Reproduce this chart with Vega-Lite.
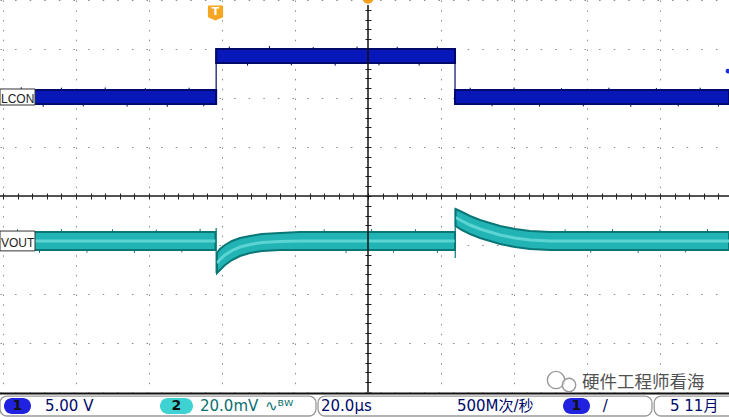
{
  "$schema": "https://vega.github.io/schema/vega-lite/v6.json",
  "width": 729,
  "height": 417,
  "autosize": {"type": "none"},
  "padding": 0,
  "background": "white",
  "config": {"view": {"stroke": null}, "axis": {"title": null}},
  "resolve": {"axis": {"x": "independent", "y": "independent"}},
  "datasets": {
    "one": [{"k": 1}],
    "lcon": [
      {"seg": "a", "t": -100.82, "hi": 2.163, "lo": 1.878},
      {"seg": "a", "t": -41.6, "hi": 2.163, "lo": 1.878},
      {"seg": "b", "t": -41.6, "hi": 3.0, "lo": 2.714},
      {"seg": "b", "t": 23.84, "hi": 3.0, "lo": 2.714},
      {"seg": "c", "t": 23.84, "hi": 2.163, "lo": 1.878},
      {"seg": "c", "t": 98.9, "hi": 2.163, "lo": 1.878}
    ],
    "lconEdges": [
      {"t": -41.6, "hi": 3.0, "lo": 1.878},
      {"t": 23.84, "hi": 3.0, "lo": 1.878}
    ],
    "vout": [
      {"seg": "a", "t": -100.82, "hi": -0.735, "lo": -1.102, "mid": -0.918},
      {"seg": "a", "t": -41.8, "hi": -0.735, "lo": -1.102, "mid": -0.918},
      {"seg": "b", "t": -41.37, "hi": -1.163, "lo": -1.571, "mid": -1.367},
      {"seg": "b", "t": -40.55, "hi": -1.082, "lo": -1.51, "mid": -1.296},
      {"seg": "b", "t": -39.18, "hi": -1.0, "lo": -1.408, "mid": -1.204},
      {"seg": "b", "t": -37.26, "hi": -0.918, "lo": -1.306, "mid": -1.112},
      {"seg": "b", "t": -35.07, "hi": -0.857, "lo": -1.224, "mid": -1.041},
      {"seg": "b", "t": -32.33, "hi": -0.816, "lo": -1.163, "mid": -0.99},
      {"seg": "b", "t": -29.04, "hi": -0.776, "lo": -1.122, "mid": -0.949},
      {"seg": "b", "t": -24.11, "hi": -0.755, "lo": -1.102, "mid": -0.929},
      {"seg": "b", "t": -18.63, "hi": -0.735, "lo": -1.102, "mid": -0.918},
      {"seg": "b", "t": 23.84, "hi": -0.735, "lo": -1.102, "mid": -0.918},
      {"seg": "c", "t": 24.0, "hi": -0.265, "lo": -0.612, "mid": -0.439},
      {"seg": "c", "t": 25.75, "hi": -0.327, "lo": -0.694, "mid": -0.51},
      {"seg": "c", "t": 27.95, "hi": -0.408, "lo": -0.776, "mid": -0.592},
      {"seg": "c", "t": 30.68, "hi": -0.49, "lo": -0.857, "mid": -0.673},
      {"seg": "c", "t": 33.42, "hi": -0.551, "lo": -0.918, "mid": -0.735},
      {"seg": "c", "t": 36.16, "hi": -0.612, "lo": -0.98, "mid": -0.796},
      {"seg": "c", "t": 40.27, "hi": -0.673, "lo": -1.041, "mid": -0.857},
      {"seg": "c", "t": 44.38, "hi": -0.714, "lo": -1.082, "mid": -0.898},
      {"seg": "c", "t": 49.86, "hi": -0.735, "lo": -1.102, "mid": -0.918},
      {"seg": "c", "t": 98.9, "hi": -0.735, "lo": -1.102, "mid": -0.918}
    ],
    "voutEdges": [
      {"t": -41.6, "hi": -0.653, "lo": -1.571},
      {"t": 23.9, "hi": -0.265, "lo": -1.265}
    ],
    "spikes": [
      {"tr": "L", "t": -95, "a": 2.163, "b": 2.22}, {"tr": "L", "t": -89, "a": 1.878, "b": 1.82},
      {"tr": "L", "t": -84, "a": 2.163, "b": 2.21}, {"tr": "L", "t": -78, "a": 1.878, "b": 1.83},
      {"tr": "L", "t": -72, "a": 2.163, "b": 2.215}, {"tr": "L", "t": -66, "a": 1.878, "b": 1.825},
      {"tr": "L", "t": -61, "a": 2.163, "b": 2.2}, {"tr": "L", "t": -55, "a": 1.878, "b": 1.82},
      {"tr": "L", "t": -49, "a": 2.163, "b": 2.21}, {"tr": "L", "t": -45, "a": 1.878, "b": 1.83},
      {"tr": "L", "t": -38, "a": 3.0, "b": 3.05}, {"tr": "L", "t": -33, "a": 2.714, "b": 2.66},
      {"tr": "L", "t": -27, "a": 3.0, "b": 3.06}, {"tr": "L", "t": -21, "a": 2.714, "b": 2.665},
      {"tr": "L", "t": -15, "a": 3.0, "b": 3.04}, {"tr": "L", "t": -9, "a": 2.714, "b": 2.66},
      {"tr": "L", "t": -3, "a": 3.0, "b": 3.05}, {"tr": "L", "t": 3, "a": 2.714, "b": 2.665},
      {"tr": "L", "t": 8, "a": 3.0, "b": 3.045}, {"tr": "L", "t": 14, "a": 2.714, "b": 2.66},
      {"tr": "L", "t": 19, "a": 3.0, "b": 3.05},
      {"tr": "L", "t": 28, "a": 2.163, "b": 2.21}, {"tr": "L", "t": 34, "a": 1.878, "b": 1.83},
      {"tr": "L", "t": 40, "a": 2.163, "b": 2.215}, {"tr": "L", "t": 47, "a": 1.878, "b": 1.825},
      {"tr": "L", "t": 53, "a": 2.163, "b": 2.2}, {"tr": "L", "t": 59, "a": 1.878, "b": 1.83},
      {"tr": "L", "t": 66, "a": 2.163, "b": 2.21}, {"tr": "L", "t": 72, "a": 1.878, "b": 1.82},
      {"tr": "L", "t": 79, "a": 2.163, "b": 2.205}, {"tr": "L", "t": 85, "a": 1.878, "b": 1.83},
      {"tr": "L", "t": 91, "a": 2.163, "b": 2.21}, {"tr": "L", "t": 96, "a": 1.878, "b": 1.825},
      {"tr": "V", "t": -96, "a": -0.735, "b": -0.68}, {"tr": "V", "t": -90, "a": -1.102, "b": -1.16},
      {"tr": "V", "t": -84, "a": -0.735, "b": -0.675}, {"tr": "V", "t": -77, "a": -1.102, "b": -1.155},
      {"tr": "V", "t": -70, "a": -0.735, "b": -0.68}, {"tr": "V", "t": -64, "a": -1.102, "b": -1.16},
      {"tr": "V", "t": -58, "a": -0.735, "b": -0.685}, {"tr": "V", "t": -51, "a": -1.102, "b": -1.15},
      {"tr": "V", "t": -46, "a": -0.735, "b": -0.67}, {"tr": "V", "t": -12, "a": -0.735, "b": -0.68},
      {"tr": "V", "t": -6, "a": -1.102, "b": -1.16}, {"tr": "V", "t": 1, "a": -0.735, "b": -0.675},
      {"tr": "V", "t": 7, "a": -1.102, "b": -1.155}, {"tr": "V", "t": 13, "a": -0.735, "b": -0.68},
      {"tr": "V", "t": 19, "a": -1.102, "b": -1.16}, {"tr": "V", "t": 54, "a": -0.735, "b": -0.68},
      {"tr": "V", "t": 61, "a": -1.102, "b": -1.155}, {"tr": "V", "t": 67, "a": -0.735, "b": -0.675},
      {"tr": "V", "t": 74, "a": -1.102, "b": -1.16}, {"tr": "V", "t": 80, "a": -0.735, "b": -0.68},
      {"tr": "V", "t": 87, "a": -1.102, "b": -1.15}, {"tr": "V", "t": 93, "a": -0.735, "b": -0.675}
    ],
    "labels": [
      {"name": "LCON", "t": -100.82, "t2": -91.23, "top": 2.184, "bot": 1.857, "v": 1.98},
      {"name": "VOUT", "t": -100.82, "t2": -91.23, "top": -0.715, "bot": -1.12, "v": -0.96}
    ],
    "boxes": [
      {"t": -100.82, "t2": -14.25, "top": -4.082, "bot": -4.49},
      {"t": -13.7, "t2": 77.8, "top": -4.082, "bot": -4.49},
      {"t": 78.4, "t2": 106, "top": -4.082, "bot": -4.49}
    ],
    "pills": [
      {"ch": "1", "t": -99.73, "t2": -92.33, "tc": -96.03, "top": -4.122, "bot": -4.449, "v": -4.286},
      {"ch": "2", "t": -56.99, "t2": -47.95, "tc": -52.47, "top": -4.122, "bot": -4.449, "v": -4.286},
      {"ch": "1", "t": 53.42, "t2": 60.82, "tc": 57.12, "top": -4.122, "bot": -4.449, "v": -4.286}
    ],
    "status": [
      {"grp": "ch1", "t": -88.49, "v": -4.286, "label": "5.00 V"},
      {"grp": "ch2", "t": -46.03, "v": -4.286, "label": "20.0mV"},
      {"grp": "ch2", "t": -28.22, "v": -4.286, "label": "∿ᴮᵂ"},
      {"grp": "sys", "t": -12.88, "v": -4.286, "label": "20.0μs"},
      {"grp": "sys", "t": 24.38, "v": -4.286, "label": "500M次/秒"},
      {"grp": "sys", "t": 64.3, "v": -4.286, "label": "/"},
      {"grp": "sys", "t": 82.74, "v": -4.286, "label": "5 11月"}
    ]
  },
  "layer": [
    {
      "data": {"name": "lcon"},
      "mark": {"type": "area", "color": "#0818b8", "stroke": "#000a6a", "strokeWidth": 2, "opacity": 1},
      "encoding": {
        "x": {"field": "t", "type": "quantitative", "scale": {"domain": [-100.82, 98.9], "nice": false, "zero": false},
          "axis": {"orient": "bottom", "values": [-100, -80, -60, -40, -20, 20, 40, 60, 80], "grid": true, "gridColor": "#8a8a8a", "gridDash": [1.5, 8.3], "gridWidth": 1, "labels": false, "ticks": false, "domain": false, "title": null}},
        "y": {"field": "hi", "type": "quantitative", "scale": {"domain": [-4.51, 4], "nice": false, "zero": false},
          "axis": {"orient": "left", "values": [-4, -3, -2, -1, 1, 2, 3, 4], "grid": true, "gridColor": "#8a8a8a", "gridDash": [1.5, 13.1], "gridWidth": 1, "labels": false, "ticks": false, "domain": false, "title": null}},
        "y2": {"field": "lo"},
        "detail": {"field": "seg"}
      }
    },
    {
      "data": {"name": "lconEdges"},
      "mark": {"type": "rule", "color": "#000a6a", "strokeWidth": 1.2},
      "encoding": {
        "x": {"field": "t", "type": "quantitative", "scale": {"domain": [-100.82, 98.9], "nice": false, "zero": false}, "axis": null},
        "y": {"field": "hi", "type": "quantitative", "scale": {"domain": [-4.51, 4], "nice": false, "zero": false}, "axis": null},
        "y2": {"field": "lo"}
      }
    },
    {
      "data": {"name": "vout"},
      "mark": {"type": "area", "color": "#22b4b4", "stroke": "#0a7676", "strokeWidth": 2},
      "encoding": {
        "x": {"field": "t", "type": "quantitative", "scale": {"domain": [-100.82, 98.9], "nice": false, "zero": false},
          "axis": {"orient": "top", "offset": -196, "values": [-100, -96, -92, -88, -84, -80, -76, -72, -68, -64, -60, -56, -52, -48, -44, -40, -36, -32, -28, -24, -20, -16, -12, -8, -4, 0, 4, 8, 12, 16, 20, 24, 28, 32, 36, 40, 44, 48, 52, 56, 60, 64, 68, 72, 76, 80, 84, 88, 92, 96], "ticks": true, "tickSize": 3, "tickColor": "#222", "tickWidth": 1, "labels": false, "domain": false, "grid": false, "title": null}},
        "y": {"field": "hi", "type": "quantitative", "scale": {"domain": [-4.51, 4], "nice": false, "zero": false},
          "axis": {"orient": "left", "offset": -368, "values": [-4, -3.8, -3.6, -3.4, -3.2, -3, -2.8, -2.6, -2.4, -2.2, -2, -1.8, -1.6, -1.4, -1.2, -1, -0.8, -0.6, -0.4, -0.2, 0, 0.2, 0.4, 0.6, 0.8, 1, 1.2, 1.4, 1.6, 1.8, 2, 2.2, 2.4, 2.6, 2.8, 3, 3.2, 3.4, 3.6, 3.8, 4], "ticks": true, "tickSize": 3, "tickColor": "#222", "tickWidth": 1, "labels": false, "domain": false, "grid": false, "title": null}},
        "y2": {"field": "lo"},
        "detail": {"field": "seg"}
      }
    },
    {
      "data": {"name": "vout"},
      "mark": {"type": "line", "color": "#5cd4d4", "strokeWidth": 3},
      "encoding": {
        "x": {"field": "t", "type": "quantitative", "scale": {"domain": [-100.82, 98.9], "nice": false, "zero": false},
          "axis": {"orient": "bottom", "offset": -221, "values": [-100, -96, -92, -88, -84, -80, -76, -72, -68, -64, -60, -56, -52, -48, -44, -40, -36, -32, -28, -24, -20, -16, -12, -8, -4, 0, 4, 8, 12, 16, 20, 24, 28, 32, 36, 40, 44, 48, 52, 56, 60, 64, 68, 72, 76, 80, 84, 88, 92, 96], "ticks": true, "tickSize": 3, "tickColor": "#222", "tickWidth": 1, "labels": false, "domain": false, "grid": false, "title": null}},
        "y": {"field": "mid", "type": "quantitative", "scale": {"domain": [-4.51, 4], "nice": false, "zero": false},
          "axis": {"orient": "right", "offset": -361, "values": [-4, -3.8, -3.6, -3.4, -3.2, -3, -2.8, -2.6, -2.4, -2.2, -2, -1.8, -1.6, -1.4, -1.2, -1, -0.8, -0.6, -0.4, -0.2, 0, 0.2, 0.4, 0.6, 0.8, 1, 1.2, 1.4, 1.6, 1.8, 2, 2.2, 2.4, 2.6, 2.8, 3, 3.2, 3.4, 3.6, 3.8, 4], "ticks": true, "tickSize": 3, "tickColor": "#222", "tickWidth": 1, "labels": false, "domain": false, "grid": false, "title": null}},
        "detail": {"field": "seg"}
      }
    },
    {
      "data": {"name": "voutEdges"},
      "mark": {"type": "rule", "color": "#0a7676", "strokeWidth": 1.2},
      "encoding": {
        "x": {"field": "t", "type": "quantitative", "scale": {"domain": [-100.82, 98.9], "nice": false, "zero": false}, "axis": null},
        "y": {"field": "hi", "type": "quantitative", "scale": {"domain": [-4.51, 4], "nice": false, "zero": false}, "axis": null},
        "y2": {"field": "lo"}
      }
    },
    {
      "data": {"name": "spikes"},
      "mark": {"type": "rule", "strokeWidth": 1},
      "encoding": {
        "x": {"field": "t", "type": "quantitative", "scale": {"domain": [-100.82, 98.9], "nice": false, "zero": false}, "axis": null},
        "y": {"field": "a", "type": "quantitative", "scale": {"domain": [-4.51, 4], "nice": false, "zero": false}, "axis": null},
        "y2": {"field": "b"},
        "color": {"field": "tr", "type": "nominal", "scale": {"domain": ["L", "V"], "range": ["#000a6a", "#0a7070"]}, "legend": null}
      }
    },
    {
      "data": {"name": "one"},
      "mark": {"type": "rule", "color": "#1a1a1a", "strokeWidth": 1.3},
      "encoding": {
        "y": {"datum": 0, "type": "quantitative", "scale": {"domain": [-4.51, 4], "nice": false, "zero": false}, "axis": null}
      }
    },
    {
      "data": {"name": "one"},
      "mark": {"type": "rule", "color": "#111111", "strokeWidth": 1.5},
      "encoding": {
        "x": {"datum": 0, "type": "quantitative", "scale": {"domain": [-100.82, 98.9], "nice": false, "zero": false}, "axis": null},
        "y": {"datum": 3.9, "type": "quantitative", "scale": {"domain": [-4.51, 4], "nice": false, "zero": false}, "axis": null},
        "y2": {"datum": -4.02}
      }
    },
    {
      "data": {"name": "labels"},
      "mark": {"type": "rect", "fill": "white", "stroke": "#333333", "strokeWidth": 1},
      "encoding": {
        "x": {"field": "t", "type": "quantitative", "scale": {"domain": [-100.82, 98.9], "nice": false, "zero": false}, "axis": null},
        "x2": {"field": "t2"},
        "y": {"field": "top", "type": "quantitative", "scale": {"domain": [-4.51, 4], "nice": false, "zero": false}, "axis": null},
        "y2": {"field": "bot"}
      }
    },
    {
      "data": {"name": "labels"},
      "mark": {"type": "text", "align": "left", "baseline": "middle", "font": "Liberation Sans", "fontSize": 12, "color": "#222222", "dx": 1},
      "encoding": {
        "x": {"field": "t", "type": "quantitative", "scale": {"domain": [-100.82, 98.9], "nice": false, "zero": false}, "axis": null},
        "y": {"field": "v", "type": "quantitative", "scale": {"domain": [-4.51, 4], "nice": false, "zero": false}, "axis": null},
        "text": {"field": "name"}
      }
    },
    {
      "data": {"name": "one"},
      "mark": {"type": "point", "shape": "M-1,-1L1,-1L1,0.55L0,1L-1,0.55Z", "filled": true, "color": "#f5a623", "size": 230, "opacity": 1},
      "encoding": {
        "x": {"datum": -41.78, "type": "quantitative", "scale": {"domain": [-100.82, 98.9], "nice": false, "zero": false}, "axis": null},
        "y": {"datum": 3.735, "type": "quantitative", "scale": {"domain": [-4.51, 4], "nice": false, "zero": false}, "axis": null}
      }
    },
    {
      "data": {"name": "one"},
      "mark": {"type": "text", "text": "T", "font": "DejaVu Sans", "fontWeight": "bold", "fontSize": 11, "color": "white", "align": "center", "baseline": "middle", "dy": -1},
      "encoding": {
        "x": {"datum": -41.78, "type": "quantitative", "scale": {"domain": [-100.82, 98.9], "nice": false, "zero": false}, "axis": null},
        "y": {"datum": 3.735, "type": "quantitative", "scale": {"domain": [-4.51, 4], "nice": false, "zero": false}, "axis": null}
      }
    },
    {
      "data": {"name": "one"},
      "mark": {"type": "point", "shape": "circle", "filled": true, "color": "#f5a01c", "size": 130, "opacity": 1},
      "encoding": {
        "x": {"datum": 0, "type": "quantitative", "scale": {"domain": [-100.82, 98.9], "nice": false, "zero": false}, "axis": null},
        "y": {"datum": 4.04, "type": "quantitative", "scale": {"domain": [-4.51, 4], "nice": false, "zero": false}, "axis": null}
      }
    },
    {
      "data": {"name": "one"},
      "mark": {"type": "point", "shape": "circle", "filled": true, "color": "#1f2fd0", "size": 22, "opacity": 1},
      "encoding": {
        "x": {"datum": 98.6, "type": "quantitative", "scale": {"domain": [-100.82, 98.9], "nice": false, "zero": false}, "axis": null},
        "y": {"datum": 2.55, "type": "quantitative", "scale": {"domain": [-4.51, 4], "nice": false, "zero": false}, "axis": null}
      }
    },
    {
      "data": {"name": "one"},
      "mark": {"type": "rect", "fill": "white"},
      "encoding": {
        "x": {"datum": -102, "type": "quantitative", "scale": {"domain": [-100.82, 98.9], "nice": false, "zero": false}, "axis": null},
        "x2": {"datum": 101},
        "y": {"datum": -4.012, "type": "quantitative", "scale": {"domain": [-4.51, 4], "nice": false, "zero": false}, "axis": null},
        "y2": {"datum": -4.6}
      }
    },
    {
      "data": {"name": "one"},
      "mark": {"type": "rule", "color": "#111111", "strokeWidth": 2},
      "encoding": {
        "y": {"datum": -4.03, "type": "quantitative", "scale": {"domain": [-4.51, 4], "nice": false, "zero": false}, "axis": null}
      }
    },
    {
      "data": {"name": "boxes"},
      "mark": {"type": "rect", "fill": "white", "stroke": "#9a9a9a", "strokeWidth": 1.3, "cornerRadius": 7},
      "encoding": {
        "x": {"field": "t", "type": "quantitative", "scale": {"domain": [-100.82, 98.9], "nice": false, "zero": false}, "axis": null},
        "x2": {"field": "t2"},
        "y": {"field": "top", "type": "quantitative", "scale": {"domain": [-4.51, 4], "nice": false, "zero": false}, "axis": null},
        "y2": {"field": "bot"}
      }
    },
    {
      "data": {"name": "pills"},
      "mark": {"type": "rect", "cornerRadius": 8},
      "encoding": {
        "x": {"field": "t", "type": "quantitative", "scale": {"domain": [-100.82, 98.9], "nice": false, "zero": false}, "axis": null},
        "x2": {"field": "t2"},
        "y": {"field": "top", "type": "quantitative", "scale": {"domain": [-4.51, 4], "nice": false, "zero": false}, "axis": null},
        "y2": {"field": "bot"},
        "fill": {"field": "ch", "type": "nominal", "scale": {"domain": ["1", "2"], "range": ["#2121e0", "#3ed2d2"]}, "legend": null}
      }
    },
    {
      "data": {"name": "pills"},
      "mark": {"type": "text", "font": "DejaVu Sans", "fontWeight": "bold", "fontSize": 14, "color": "#111111", "align": "center", "baseline": "middle"},
      "encoding": {
        "x": {"field": "tc", "type": "quantitative", "scale": {"domain": [-100.82, 98.9], "nice": false, "zero": false}, "axis": null},
        "y": {"field": "v", "type": "quantitative", "scale": {"domain": [-4.51, 4], "nice": false, "zero": false}, "axis": null},
        "text": {"field": "ch"}
      }
    },
    {
      "data": {"name": "status"},
      "mark": {"type": "text", "font": "'DejaVu Sans', 'Noto Sans CJK SC'", "fontSize": 15, "align": "left", "baseline": "middle"},
      "encoding": {
        "x": {"field": "t", "type": "quantitative", "scale": {"domain": [-100.82, 98.9], "nice": false, "zero": false}, "axis": null},
        "y": {"field": "v", "type": "quantitative", "scale": {"domain": [-4.51, 4], "nice": false, "zero": false}, "axis": null},
        "text": {"field": "label"},
        "color": {"field": "grp", "type": "nominal", "scale": {"domain": ["ch1", "ch2", "sys"], "range": ["#4b4bc8", "#3cc6c6", "#111111"]}, "legend": null}
      }
    },
    {
      "data": {"name": "one"},
      "mark": {"type": "point", "shape": "circle", "filled": true, "fill": "white", "fillOpacity": 0.6, "stroke": "#9a9a9a", "strokeWidth": 1.4, "size": 300},
      "encoding": {
        "x": {"datum": 51.51, "type": "quantitative", "scale": {"domain": [-100.82, 98.9], "nice": false, "zero": false}, "axis": null},
        "y": {"datum": -3.755, "type": "quantitative", "scale": {"domain": [-4.51, 4], "nice": false, "zero": false}, "axis": null}
      }
    },
    {
      "data": {"name": "one"},
      "mark": {"type": "point", "shape": "circle", "filled": true, "fill": "white", "fillOpacity": 0.6, "stroke": "#9a9a9a", "strokeWidth": 1.4, "size": 180},
      "encoding": {
        "x": {"datum": 55.07, "type": "quantitative", "scale": {"domain": [-100.82, 98.9], "nice": false, "zero": false}, "axis": null},
        "y": {"datum": -3.857, "type": "quantitative", "scale": {"domain": [-4.51, 4], "nice": false, "zero": false}, "axis": null}
      }
    },
    {
      "data": {"name": "one"},
      "mark": {"type": "text", "text": "硬件工程师看海", "font": "Noto Sans CJK SC", "fontSize": 17.5, "color": "#333333", "opacity": 0.85, "align": "left", "baseline": "middle"},
      "encoding": {
        "x": {"datum": 58.63, "type": "quantitative", "scale": {"domain": [-100.82, 98.9], "nice": false, "zero": false}, "axis": null},
        "y": {"datum": -3.82, "type": "quantitative", "scale": {"domain": [-4.51, 4], "nice": false, "zero": false}, "axis": null}
      }
    }
  ]
}
